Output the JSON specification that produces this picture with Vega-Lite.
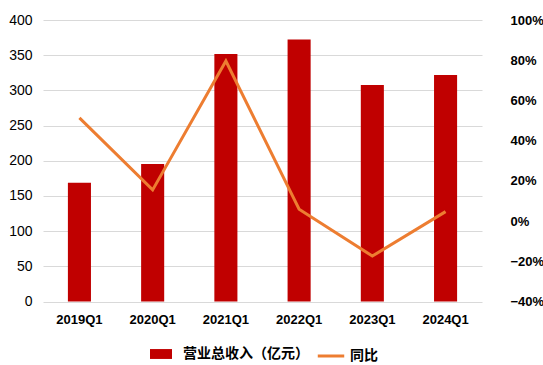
{
  "$schema": "https://vega.github.io/schema/vega-lite/v6.json",
  "autosize": {"type": "none"},
  "padding": {"left": 43, "top": 20, "right": 61, "bottom": 63.5},
  "width": 439,
  "height": 281.5,
  "background": "white",
  "config": {
    "view": {"stroke": null},
    "axis": {"labelFont": "Liberation Sans", "labelColor": "#000000", "labelFontSize": 13, "domain": false, "ticks": false, "title": null}
  },
  "data": {
    "values": [
      {"q": "2019Q1", "rev": 168.8, "yoy": 0.513, "s1": "营业总收入（亿元）", "s2": "同比"},
      {"q": "2020Q1", "rev": 195.3, "yoy": 0.155, "s1": "营业总收入（亿元）", "s2": "同比"},
      {"q": "2021Q1", "rev": 351.6, "yoy": 0.796, "s1": "营业总收入（亿元）", "s2": "同比"},
      {"q": "2022Q1", "rev": 372.4, "yoy": 0.059, "s1": "营业总收入（亿元）", "s2": "同比"},
      {"q": "2023Q1", "rev": 307.5, "yoy": -0.174, "s1": "营业总收入（亿元）", "s2": "同比"},
      {"q": "2024Q1", "rev": 321.7, "yoy": 0.047, "s1": "营业总收入（亿元）", "s2": "同比"}
    ]
  },
  "encoding": {
    "x": {
      "field": "q", "type": "nominal", "sort": null,
      "scale": {"paddingInner": 0.685, "paddingOuter": 0.34},
      "axis": {"labelAngle": 0, "labelPadding": 12, "labelFontWeight": "bold", "labelFontSize": 13, "grid": false}
    }
  },
  "layer": [
    {
      "mark": {"type": "bar", "color": "#C00000"},
      "encoding": {
        "y": {
          "field": "rev", "type": "quantitative",
          "scale": {"domain": [0, 400], "nice": false},
          "axis": {"values": [0, 50, 100, 150, 200, 250, 300, 350, 400], "labelPadding": 11, "labelFontSize": 14, "grid": true, "gridColor": "#D9D9D9", "gridWidth": 1}
        },
        "fill": {
          "field": "s1", "type": "nominal",
          "scale": {"range": ["#C00000"]},
          "legend": {
            "orient": "none", "legendX": 107, "legendY": 323, "title": null, "padding": 0,
            "symbolType": "M-1,-0.45H1V0.45H-1Z", "symbolSize": 484, "symbolStrokeWidth": 0,
            "labelFont": "Noto Sans CJK SC", "labelFontSize": 14, "labelFontWeight": "bold", "labelColor": "#000000", "labelOffset": 11, "labelLimit": 300
          }
        }
      }
    },
    {
      "mark": {"type": "line", "color": "#ED7D31", "strokeWidth": 3},
      "encoding": {
        "y": {
          "field": "yoy", "type": "quantitative",
          "scale": {"domain": [-0.4, 1.0], "nice": false, "zero": false},
          "axis": {"orient": "right", "values": [-0.4, -0.2, 0, 0.2, 0.4, 0.6, 0.8, 1.0], "format": ".0%", "labelPadding": 28, "grid": false, "labelFontWeight": "bold", "labelFontSize": 13}
        },
        "stroke": {
          "field": "s2", "type": "nominal",
          "scale": {"range": ["#ED7D31"]},
          "legend": {
            "orient": "none", "legendX": 273, "legendY": 321, "title": null, "padding": 0,
            "symbolType": "stroke", "symbolSize": 700, "symbolStrokeWidth": 3,
            "labelFont": "Noto Sans CJK SC", "labelFontSize": 14, "labelFontWeight": "bold", "labelColor": "#000000", "labelOffset": 4
          }
        }
      }
    }
  ],
  "resolve": {"scale": {"y": "independent", "fill": "independent", "stroke": "independent"}}
}
